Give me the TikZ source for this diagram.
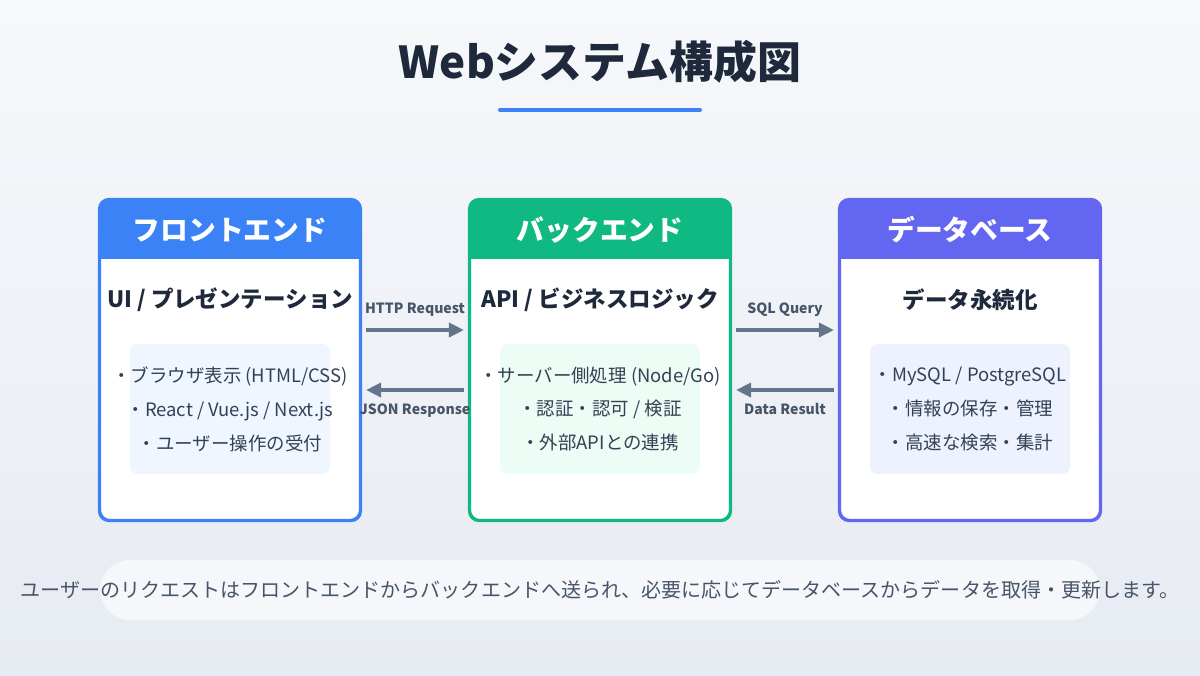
\documentclass[tikz,border=0pt]{standalone}
\usepackage{fontspec}
\setmainfont{Noto Sans CJK JP}
\usetikzlibrary{positioning,arrows.meta,calc}
\definecolor{navy}{HTML}{1E293B}
\definecolor{feblue}{HTML}{3B82F6}
\definecolor{begreen}{HTML}{10B981}
\definecolor{dbpurple}{HTML}{6366F1}
\definecolor{fefill}{HTML}{EFF6FF}
\definecolor{befill}{HTML}{ECFDF5}
\definecolor{dbfill}{HTML}{EEF2FF}
\definecolor{arrowgray}{HTML}{64748B}
\definecolor{textgray}{HTML}{334155}
\definecolor{notegray}{HTML}{475569}
\definecolor{bgtop}{HTML}{F6F8FB}
\definecolor{bgbottom}{HTML}{E7EBF2}
\tikzset{
  tier/.style={minimum width=5.2cm,minimum height=6.4cm,rounded corners=0.2cm,fill=white,line width=1.2pt},
  headtext/.style={text=white,font=\bfseries\fontsize{15.8}{18}\selectfont},
  subtext/.style={text=navy,font=\bfseries\fontsize{12.8}{15}\selectfont},
  listbox/.style={minimum width=4cm,minimum height=2.6cm,rounded corners=0.15cm},
  listtext/.style={text=textgray,font=\fontsize{10.5}{19.3}\selectfont,align=center},
  flow/.style={arrowgray,line width=2pt,-{Triangle[length=0.3cm,width=0.28cm]}},
  flowlabel/.style={text=notegray,font=\bfseries\fontsize{8}{10}\selectfont}
}
\begin{document}
\begin{tikzpicture}
\shade[top color=bgtop,bottom color=bgbottom] (0,0) rectangle (24,-13.5);
\useasboundingbox (0,0) rectangle (24,-13.5);
% title
\node (title) at (12,-1.24) {\textcolor{navy}{\bfseries\fontsize{25}{30}\selectfont Webシステム構成図}};
\draw[feblue,line width=2.2pt,line cap=round] (10,-2.2) -- (14,-2.2);
% tiers
\foreach \n/\x/\c/\f/\h in {fe/4.6/feblue/fefill/フロントエンド,be/12/begreen/befill/バックエンド,db/19.4/dbpurple/dbfill/データベース}{
  \node[tier,draw=\c] (\n) at (\x,-7.2) {};
  \begin{scope}
    \clip[rounded corners=0.2cm] (\n.north west) rectangle (\n.south east);
    \fill[\c] (\n.north west) rectangle ($(\n.north east)+(0,-1.2)$);
  \end{scope}
  \draw[\c,line width=1.2pt,rounded corners=0.2cm] (\n.north west) rectangle (\n.south east);
  \node[headtext] (\n head) at ($(\n.north)+(0,-0.62)$) {\h};
  \node[listbox,fill=\f] (\n list) at ($(\n.north)+(0,-4.2)$) {};
}
\node[subtext] (fesub) at ($(fe.north)+(0,-2.02)$) {UI / プレゼンテーション};
\node[subtext] (besub) at ($(be.north)+(0,-2.02)$) {API / ビジネスロジック};
\node[subtext] (dbsub) at ($(db.north)+(0,-2.02)$) {データ永続化};
\node[listtext] (fetext) at (felist) {・ブラウザ表示 (HTML/CSS)\\・React / Vue.js / Next.js\\・ユーザー操作の受付};
\node[listtext] (betext) at (belist) {・サーバー側処理 (Node/Go)\\・認証・認可 / 検証\\・外部APIとの連携};
\node[listtext] (dbtext) at (dblist) {・MySQL / PostgreSQL\\・情報の保存・管理\\・高速な検索・集計};
% connectors
\draw[flow,shorten <=0.1cm,shorten >=0.1cm] ([yshift=0.6cm]fe.east) -- node[flowlabel,above=0.12cm] {HTTP Request} ([yshift=0.6cm]be.west);
\draw[flow,shorten <=0.1cm,shorten >=0.1cm] ([yshift=-0.6cm]be.west) -- node[flowlabel,below=0.12cm] {JSON Response} ([yshift=-0.6cm]fe.east);
\draw[flow,shorten <=0.1cm,shorten >=0.1cm] ([yshift=0.6cm]be.east) -- node[flowlabel,above=0.12cm] {SQL Query} ([yshift=0.6cm]db.west);
\draw[flow,shorten <=0.1cm,shorten >=0.1cm] ([yshift=-0.6cm]db.west) -- node[flowlabel,below=0.12cm] {Data Result} ([yshift=-0.6cm]be.east);
% note
\fill[white,opacity=0.6,rounded corners=0.6cm] (2,-11.2) rectangle (22,-12.4);
\node[text=notegray,font=\fontsize{11.4}{13}\selectfont] (note) at (12,-11.8) {ユーザーのリクエストはフロントエンドからバックエンドへ送られ、必要に応じてデータベースからデータを取得・更新します。};
\end{tikzpicture}
\end{document}
